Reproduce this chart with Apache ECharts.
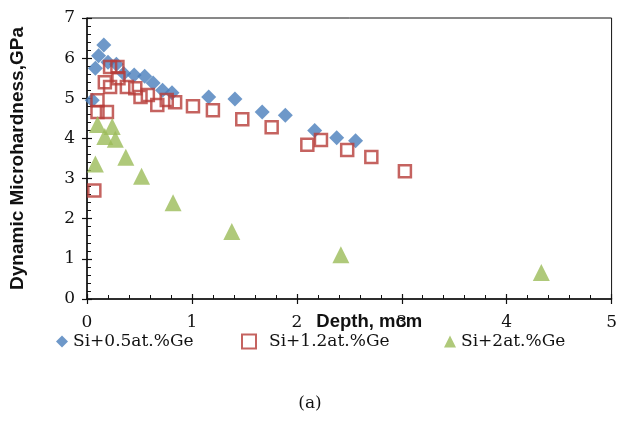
<!DOCTYPE html>
<html>
<head>
<meta charset="utf-8">
<script src="https://cdn.jsdelivr.net/npm/echarts@6/dist/echarts.min.js"></script>
<style>html,body{margin:0;padding:0;background:#fff}#c{width:620px;height:430px}</style>
</head>
<body>
<div id="c"></div>
<script>
const seriesNames = ['Si+0.5at.%Ge', 'Si+1.2at.%Ge', 'Si+2at.%Ge'];
const xTicks = [0, 1, 2, 3, 4, 5];
const yTicks = [0, 1, 2, 3, 4, 5, 6, 7];
const si05 = [
  [0.05, 4.95], [0.08, 5.75], [0.11, 6.06], [0.16, 6.33], [0.2, 5.9], [0.28, 5.85],
  [0.35, 5.62], [0.45, 5.58], [0.55, 5.55], [0.63, 5.38], [0.72, 5.2], [0.81, 5.14],
  [1.16, 5.03], [1.41, 4.98], [1.67, 4.66], [1.89, 4.58], [2.17, 4.2], [2.38, 4.02], [2.56, 3.94]
];
const si12 = [
  [0.07, 2.7], [0.1, 4.95], [0.1, 4.66], [0.19, 4.66], [0.17, 5.4], [0.22, 5.78],
  [0.29, 5.78], [0.22, 5.28], [0.3, 5.5], [0.38, 5.28], [0.46, 5.25], [0.51, 5.03],
  [0.58, 5.08], [0.67, 4.83], [0.76, 4.96], [0.84, 4.9], [1.01, 4.8], [1.2, 4.7],
  [1.48, 4.48], [1.76, 4.28], [2.1, 3.84], [2.23, 3.96], [2.48, 3.71], [2.71, 3.54], [3.03, 3.18]
];
const si2 = [
  [0.08, 3.36], [0.1, 4.35], [0.17, 4.05], [0.24, 4.3], [0.27, 3.98], [0.37, 3.53],
  [0.52, 3.06], [0.82, 2.4], [1.38, 1.68], [2.42, 1.1], [4.33, 0.66]
];

const serif = 'DejaVu Serif';
const sans = 'Liberation Sans';
const chart = echarts.init(document.getElementById('c'), null, {renderer: 'canvas'});
const xBase = {
  type: 'value', min: xTicks[0], max: xTicks[xTicks.length - 1], interval: 1,
  splitLine: {show: false}
};
const yBase = {
  type: 'value', min: yTicks[0], max: yTicks[yTicks.length - 1], interval: 1,
  splitLine: {show: false}
};
const legendText = {fontFamily: serif, fontSize: 17, color: '#111'};
chart.setOption({
  animation: false,
  backgroundColor: '#fff',
  title: {
    text: '(a)', left: 'center', top: 390,
    textStyle: {fontFamily: serif, fontSize: 17, fontWeight: 'normal', color: '#111'}
  },
  grid: {left: 86.5, right: 6, top: 18, bottom: 131, show: true, borderColor: '#111', borderWidth: 1, backgroundColor: 'transparent'},
  legend: [
    {top: 328, left: 51, itemWidth: 12, itemHeight: 12, textStyle: legendText,
     data: [{name: seriesNames[0], icon: 'diamond'}]},
    {top: 328, left: 236, itemWidth: 14, itemHeight: 14, textStyle: Object.assign({padding: [0, 0, 0, 8]}, legendText),
     data: [{name: seriesNames[1], icon: 'rect'}]},
    {top: 328, left: 439, itemWidth: 12, itemHeight: 12, textStyle: legendText,
     data: [{name: seriesNames[2], icon: 'triangle'}]}
  ],
  xAxis: [
    Object.assign({}, xBase, {
      name: 'Depth, mcm', nameLocation: 'middle', nameGap: 23, nameMoveOverlap: false,
      nameTextStyle: {fontFamily: sans, fontWeight: 'bold', fontSize: 18.5, color: '#111', padding: [0, 0, 0, 40], verticalAlign: 'middle'},
      axisLine: {lineStyle: {color: '#111', width: 1.5}},
      axisTick: {inside: true, length: 5, lineStyle: {color: '#111', width: 1.2}},
      minorTick: {show: true, splitNumber: 5, length: 4, lineStyle: {color: '#111', width: 1}},
      axisLabel: {margin: 15, fontFamily: serif, fontSize: 17, color: '#111'}
    }),
    Object.assign({}, xBase, {
      position: 'bottom',
      axisLine: {show: false},
      axisTick: {inside: false, length: 5, lineStyle: {color: '#111', width: 1.2}},
      axisLabel: {show: false}
    })
  ],
  yAxis: [
    Object.assign({}, yBase, {
      name: 'Dynamic Microhardness,GPa', nameLocation: 'middle', nameGap: 60,
      nameTextStyle: {fontFamily: sans, fontWeight: 'bold', fontSize: 19, color: '#111'},
      axisLine: {lineStyle: {color: '#111', width: 1.5}},
      axisTick: {inside: true, length: 5, lineStyle: {color: '#111', width: 1.2}},
      minorTick: {show: true, splitNumber: 5, length: 4, lineStyle: {color: '#111', width: 1}},
      axisLabel: {margin: 12, fontFamily: serif, fontSize: 17, color: '#111'}
    }),
    Object.assign({}, yBase, {
      position: 'left',
      axisLine: {show: false},
      axisTick: {inside: false, length: 5, lineStyle: {color: '#111', width: 1.2}},
      axisLabel: {show: false}
    })
  ],
  series: [
    {
      name: seriesNames[0], type: 'scatter', data: si05, symbol: 'diamond', symbolSize: 15,
      itemStyle: {color: '#4A7EBB'}, z: 2
    },
    {
      name: seriesNames[1], type: 'scatter', data: si12, symbol: 'rect', symbolSize: 12,
      itemStyle: {color: 'rgba(255,255,255,0)', borderColor: '#B63C38', borderWidth: 2.5}, z: 3
    },
    {
      name: seriesNames[2], type: 'scatter', data: si2, symbol: 'triangle', symbolSize: 17,
      itemStyle: {color: '#9BBB59'}, z: 4
    }
  ]
});
</script>
</body>
</html>
